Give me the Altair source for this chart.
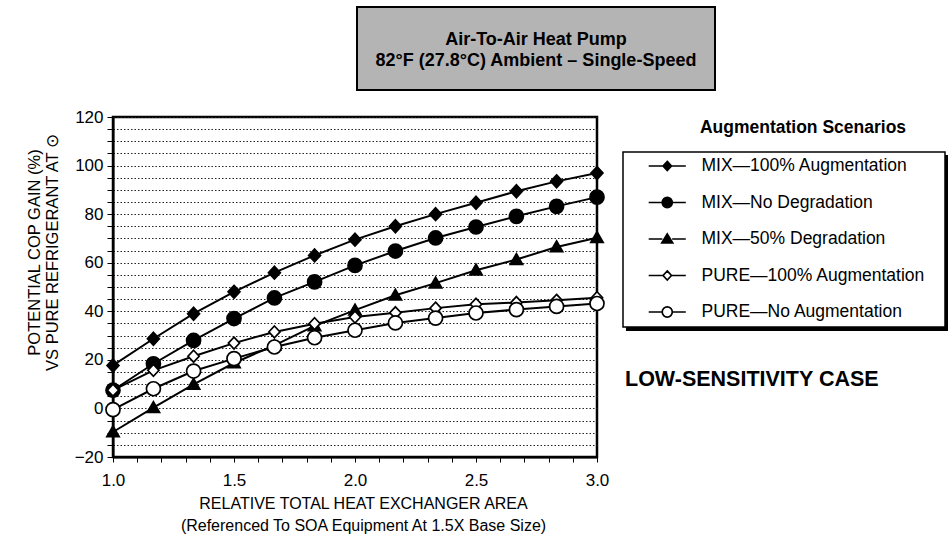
import altair as alt
import pandas as pd

# ---------------- data ----------------
area = [1.0, 1.167, 1.333, 1.5, 1.667, 1.833, 2.0, 2.167, 2.333, 2.5, 2.667, 2.833, 3.0]
series_names = [
    "MIX—100% Augmentation",
    "MIX—No Degradation",
    "MIX—50% Degradation",
    "PURE—100% Augmentation",
    "PURE—No Augmentation",
]
mix_100 = [17.7, 28.7, 39.0, 48.0, 55.9, 63.0, 69.5, 75.0, 80.0, 84.7, 89.4, 93.5, 96.9]
mix_nodeg = [7.5, 18.4, 28.0, 37.0, 45.5, 52.1, 58.9, 64.8, 70.2, 74.7, 79.1, 83.2, 87.0]
mix_50 = [-9.7, 0.3, 9.9, 18.7, 26.0, 34.0, 40.5, 46.6, 51.6, 56.9, 61.3, 66.5, 70.3]
pure_100 = [7.5, 15.7, 21.5, 26.9, 31.5, 34.9, 37.6, 39.4, 41.3, 42.9, 43.6, 44.5, 45.6]
pure_noaug = [-0.5, 8.1, 15.4, 20.5, 25.3, 29.1, 32.2, 35.2, 37.2, 39.3, 40.7, 42.0, 43.2]

x_ticks = [round(1.0 + 0.1 * i, 1) for i in range(21)]
y_ticks = list(range(-20, 121, 5))

title_lines = ["Air-To-Air Heat Pump", "82°F (27.8°C) Ambient – Single-Speed"]
x_title = ["RELATIVE TOTAL HEAT EXCHANGER AREA", "(Referenced To SOA Equipment At 1.5X Base Size)"]
y_title = ["POTENTIAL COP GAIN (%)", "VS PURE REFRIGERANT AT ⊙"]
legend_title = "Augmentation Scenarios"
case_label = "LOW-SENSITIVITY CASE"

all_values = mix_100 + mix_nodeg + mix_50 + pure_100 + pure_noaug
df = pd.DataFrame({
    "area": area * len(series_names),
    "gain": all_values,
    "series": [s for s in series_names for _ in area],
})

FONT = "Liberation Sans"

# ---------------- symbols ----------------
point_shapes = [
    "M0,-0.92L0.85,0L0,0.92L-0.85,0Z",
    "circle",
    "M0,-0.85L0.88,0.68L-0.88,0.68Z",
    "M0,-0.85L0.8,0L0,0.85L-0.8,0Z",
    "circle",
]
fills = ["black", "black", "black", "white", "white"]
strokes = ["black"] * 5
L = "M-2.65,0L-0.6,0M0.6,0L2.65,0"
Lc = "M-2.65,0L-0.72,0M0.72,0L2.65,0"
Lt = "M-2.65,0L-0.7,0M0.7,0L2.65,0"
legend_shapes = [
    L + "M0,-0.65L0.6,0L0,0.65L-0.6,0Z",
    Lc + "M0.72,0A0.72,0.72,0,1,1,-0.72,0A0.72,0.72,0,1,1,0.72,0Z",
    Lt + "M0,-0.72L0.78,0.55L-0.78,0.55Z",
    L + "M0,-0.65L0.6,0L0,0.65L-0.6,0Z",
    Lc + "M0.72,0A0.72,0.72,0,1,1,-0.72,0A0.72,0.72,0,1,1,0.72,0Z",
]

x_enc = alt.X(
    "area:Q",
    scale=alt.Scale(domain=[1, 3], nice=False),
    axis=alt.Axis(
        values=x_ticks,
        labelExpr="abs(datum.value*2 - round(datum.value*2)) < 0.001 ? format(datum.value, '.1f') : ''",
        title=x_title, titleX=250, titleY=46, titleBaseline="middle", titleLineHeight=22,
        titleFont=FONT, titleFontSize=16, titleFontWeight="normal", titleColor="black",
        labelFont=FONT, labelFontSize=17, labelColor="black", labelPadding=10,
        labelFlush=False, labelOverlap=False,
        tickSize=5, tickColor="black", tickWidth=1,
        domainColor="black", domainWidth=2, grid=False,
    ),
)
y_enc = alt.Y(
    "gain:Q",
    scale=alt.Scale(domain=[-20, 120], nice=False, zero=False),
    axis=alt.Axis(
        values=y_ticks,
        labelExpr="datum.value % 20 == 0 ? format(datum.value, 'd') : ''",
        title=y_title, titleX=-79, titleY=135, titleBaseline="middle", titleLineHeight=18,
        titleAngle=270, titleAlign="center",
        titleFont=FONT, titleFontSize=16.5, titleFontWeight="normal", titleColor="black",
        labelFont=FONT, labelFontSize=17, labelColor="black", labelPadding=4,
        labelFlush=False, labelOverlap=False,
        tickSize=6, tickColor="black", tickWidth=1,
        domainColor="black", domainWidth=2,
        grid=True, gridColor="#222222", gridDash=[1.5, 2], gridWidth=1,
    ),
)

base = alt.Chart(df)

lines = base.mark_line(color="black", strokeWidth=2).encode(
    x=x_enc, y=y_enc, detail="series:N", order="area:Q"
)

points = base.mark_point(filled=True, size=196, stroke="black", strokeWidth=1.7, opacity=1).encode(
    x=x_enc, y=y_enc,
    shape=alt.Shape("series:N", scale=alt.Scale(domain=series_names, range=point_shapes), legend=None),
    fill=alt.Fill("series:N", scale=alt.Scale(domain=series_names, range=fills), legend=None),
)

leg = alt.Legend(
    title=None, orient="none", legendX=527, legendY=40.25, padding=0,
    symbolSize=196, symbolStrokeWidth=1.7, symbolOpacity=1,
    symbolOffset=18.5, labelOffset=25.5, rowPadding=17.5, labelLimit=0,
    labelFont=FONT, labelFontSize=17.5, labelColor="black",
)
legend_layer = base.mark_point(filled=True, size=196, strokeWidth=1.7, opacity=0).encode(
    x=x_enc, y=y_enc,
    shape=alt.Shape("series:N", scale=alt.Scale(domain=series_names, range=legend_shapes), legend=leg),
    fill=alt.Fill("series:N", scale=alt.Scale(domain=series_names, range=fills), legend=leg),
    stroke=alt.Stroke("series:N", scale=alt.Scale(domain=series_names, range=strokes), legend=leg),
)

one = pd.DataFrame({"t": [""]})


def rect(x1, y1, x2, y2, **kw):
    return alt.Chart(one).mark_rect(**kw).encode(
        x=alt.value(x1), x2=alt.value(x2), y=alt.value(y1), y2=alt.value(y2)
    )


def label(txt, x, y, size, weight="normal", align="center"):
    return alt.Chart(pd.DataFrame({"t": [txt]})).mark_text(
        font=FONT, fontSize=size, fontWeight=weight, align=align, baseline="middle", color="black"
    ).encode(x=alt.value(x), y=alt.value(y), text="t:N")


title_box = rect(244, -110, 602, -27, fill="#b4b4b4", stroke="black", strokeWidth=2)
legend_shadow = rect(513, 38, 836, 214, fill="black")
legend_box = rect(510, 35, 832, 210, fill="white", stroke="black", strokeWidth=1.5)

chart = alt.layer(
    title_box,
    label(title_lines[0], 423, -77, 18, "bold"),
    label(title_lines[1], 423, -56, 18, "bold"),
    legend_shadow,
    legend_box,
    label(legend_title, 690, 11, 17.5, "bold"),
    label(case_label, 512, 263, 21.5, "bold", "left"),
    lines,
    points,
    legend_layer,
).resolve_scale(
    shape="independent", fill="independent", stroke="independent"
).properties(
    width=484, height=340,
    autosize=alt.AutoSizeParams(type="none"),
    padding={"left": 113, "top": 117, "right": 351, "bottom": 83},
    background="white",
).configure_view(stroke="black", strokeWidth=2.5)

chart.save("out.html", embed_options={"renderer": "svg", "actions": False})
